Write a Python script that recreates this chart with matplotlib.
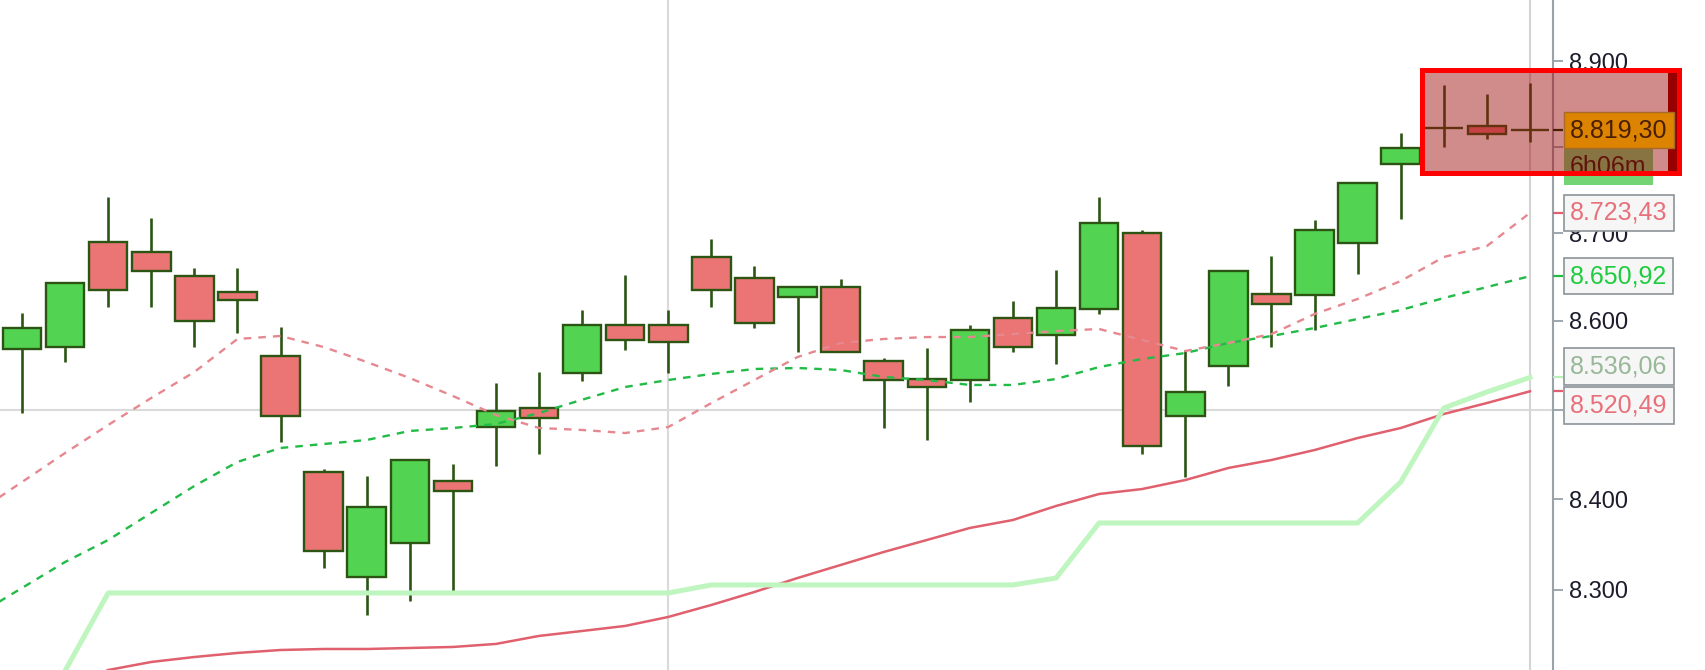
import numpy as np
import matplotlib
matplotlib.use("Agg")
import matplotlib.pyplot as plt
from matplotlib.patches import Rectangle
from matplotlib.ticker import FixedLocator, FixedFormatter, NullLocator

plt.rcParams['font.family'] = ['Liberation Sans', 'DejaVu Sans']

# OHLC candles (price)
opens = [8568.2, 8570.8, 8689.7, 8678.9, 8651.4, 8632.8, 8560.3, 8430.6, 8314.6, 8351.3,
         8420.2, 8480.1, 8501.4, 8541.1, 8595.0, 8595.0, 8673.1, 8649.2, 8626.8, 8638.2,
         8554.9, 8534.0, 8532.9, 8603.6, 8584.0, 8613.5, 8700.7, 8493.1, 8549.3, 8630.2,
         8629.4, 8689.2, 8779.5, 8822.0, 8824.0, 8819.3]
highs = [8609.3, 8644.0, 8742.1, 8717.2, 8660.6, 8660.6, 8593.4, 8433.2, 8425.8, 8444.0,
         8438.8, 8529.8, 8541.9, 8612.4, 8652.2, 8612.4, 8693.1, 8662.9, 8638.6, 8647.3,
         8558.3, 8569.0, 8595.3, 8623.0, 8657.9, 8742.1, 8703.8, 8567.0, 8657.6, 8674.0,
         8715.2, 8758.4, 8816.2, 8871.9, 8861.0, 8874.6]
lows = [8495.8, 8553.8, 8615.4, 8615.4, 8570.1, 8585.9, 8463.3, 8324.5, 8272.7, 8288.0,
        8299.2, 8437.2, 8450.3, 8532.4, 8567.0, 8540.7, 8615.4, 8591.6, 8564.4, 8565.1,
        8479.0, 8465.9, 8508.8, 8564.4, 8551.2, 8607.8, 8450.3, 8424.3, 8526.8, 8570.1,
        8589.3, 8653.4, 8716.1, 8800.0, 8808.5, 8805.8]
closes = [8592.3, 8643.4, 8635.1, 8656.8, 8599.9, 8623.7, 8493.1, 8343.2, 8391.1, 8443.6,
          8409.1, 8498.7, 8490.5, 8595.0, 8578.7, 8575.7, 8635.1, 8597.3, 8638.2, 8565.1,
          8532.9, 8525.0, 8590.0, 8570.8, 8614.3, 8711.5, 8459.5, 8520.0, 8657.1, 8619.2,
          8703.4, 8757.9, 8798.8, 8822.0, 8814.7, 8819.3]

# indicator lines (first value belongs to the bar just left of the view)
ma_fast = [8387.0, 8419.1, 8451.4, 8482.7, 8513.0, 8542.2, 8579.5, 8582.9, 8570.4, 8553.5,
           8535.4, 8515.2, 8493.9, 8479.3, 8477.1, 8473.7, 8480.4, 8507.3, 8533.2, 8559.1,
           8575.0, 8579.5, 8581.7, 8581.7, 8585.1, 8588.5, 8590.8, 8578.3, 8565.9, 8575.0,
           8585.1, 8607.8, 8624.9, 8645.4, 8672.8, 8685.4, 8723.43]
ma_mid = [8273.8, 8302.2, 8330.7, 8354.9, 8384.8, 8414.7, 8441.4, 8457.0, 8461.4, 8465.9,
          8476.0, 8479.3, 8483.8, 8496.1, 8511.0, 8525.3, 8533.2, 8540.0, 8545.6, 8546.7,
          8544.5, 8536.6, 8533.2, 8527.6, 8527.6, 8534.3, 8547.8, 8556.9, 8563.6, 8575.0,
          8582.9, 8591.9, 8602.2, 8612.4, 8626.0, 8638.5, 8650.92]
lowest = [8100.0, 8150.0, 8212.0, 8296.7, 8296.7, 8296.7, 8296.7, 8296.7, 8296.7, 8296.7,
          8296.7, 8296.7, 8296.7, 8296.7, 8296.7, 8296.7, 8296.7, 8305.5, 8305.5, 8305.5,
          8305.5, 8305.5, 8305.5, 8305.5, 8305.5, 8313.1, 8373.7, 8373.7, 8373.7, 8373.7,
          8373.7, 8373.7, 8373.7, 8419.1, 8501.7, 8519.7, 8536.06]
ma_slow = [8150.0, 8170.0, 8190.0, 8212.8, 8221.5, 8226.9, 8231.3, 8234.5, 8235.6, 8235.6,
           8236.7, 8237.8, 8241.1, 8249.8, 8255.2, 8260.7, 8270.5, 8283.6, 8297.8, 8313.1,
           8327.4, 8341.7, 8354.9, 8368.2, 8377.0, 8392.5, 8405.8, 8411.3, 8421.3, 8434.7,
           8443.6, 8454.7, 8468.1, 8479.3, 8495.0, 8507.3, 8520.49]

y_ticks = [8300, 8400, 8500, 8600, 8700, 8800, 8900]
y_labels = ['8.300', '8.400', '', '8.600', '8.700', '', '8.900']

# right side price labels: value, text, text colour, tick colour, shift (px)
tags = [(8723.43, '8.723,43', '#e8707a', '#e06070', 0),
        (8650.92, '8.650,92', '#1fcc3f', '#22bb44', 0),
        (8536.06, '8.536,06', '#98b898', '#b8f0b8', 11),
        (8520.49, '8.520,49', '#e8707a', '#e06070', -14)]
last_price = 8819.30
last_text = '8.819,30'
timer_text = '6h06m'

W, H = 1706, 670
fig = plt.figure(figsize=(W / 100, H / 100), dpi=100)
ax = fig.add_axes([0, 0, 1553 / W, 1])
ax.set_yscale('log')
ax.set_xlim(-0.511, 35.534)
ax.set_ylim(8212.8, 8972)

x = np.arange(len(opens))
xl = np.arange(-1, len(opens))
o = np.array(opens)
c = np.array(closes)
up = c >= o
edge = '#2c5514'

# grid / separators
ax.axhline(8500, color='#dadada', lw=1.5, zorder=1)
ax.axvline(15, color='#dadada', lw=1.5, zorder=1)
ax.axvline(35, color='#d4d4d4', lw=1.5, zorder=1)

# candles
ax.vlines(x, lows, highs, color=edge, lw=1.9, zorder=3)
ax.bar(x, np.abs(c - o), 0.894, bottom=np.minimum(o, c),
       color=np.where(up, '#52d352', '#eb7474'), edgecolor=edge, linewidth=1.7, zorder=3.5)

# indicators
ax.plot(xl, ma_slow, color='#e0606e', lw=1.8, zorder=4)
ax.plot(xl, lowest, color='#bff5bf', lw=3.6, zorder=4)
ax.plot(xl, ma_mid, color='#22bb48', lw=1.7, ls=(0, (3.2, 3.0)), zorder=4.2)
ax.plot(xl, ma_fast, color='#e68890', lw=1.7, ls=(0, (3.2, 3.0)), zorder=4.2)

# y axis on the right
for s in ['left', 'top', 'bottom']:
    ax.spines[s].set_visible(False)
ax.spines['right'].set_color('#98a2a8')
ax.spines['right'].set_linewidth(1.5)
ax.set_xticks([])
ax.yaxis.tick_right()
ax.yaxis.set_major_locator(FixedLocator(y_ticks))
ax.yaxis.set_major_formatter(FixedFormatter(y_labels))
ax.yaxis.set_minor_locator(NullLocator())
ax.tick_params(axis='y', length=7.2, width=1.2, color='#8d989f', pad=4,
               labelsize=17, labelcolor='#1c1c2c')

ytr = ax.get_yaxis_transform()
box_kw = dict(boxstyle='square,pad=0.25', lw=1.2)
for val, txt, tc, kc, dy in tags:
    ax.hlines(val, 1.0, 1.0066, transform=ytr, color=kc, lw=1.6, clip_on=False, zorder=6)
    ax.annotate(txt, xy=(1.0, val), xycoords=ytr, xytext=(17, dy), textcoords='offset pixels',
                ha='left', va='center', fontsize=18, color=tc, zorder=6,
                bbox=dict(fc='#f6f6f6', ec='#8c9499', **box_kw))

# timer box (under the highlight)
ax.annotate(timer_text, xy=(1.0, last_price), xycoords=ytr, xytext=(17, -37),
            textcoords='offset pixels', ha='left', va='center', fontsize=18,
            color='#2a1a0a', zorder=6,
            bbox=dict(boxstyle='square,pad=0.25', fc='#74d474', ec='none'))

# highlight box
hx0, hx1, hy0, hy1 = 1422.5, 1679.5, 70.5, 172.5
ax.add_patch(Rectangle((hx0 / W, 1 - hy1 / H), (hx1 - hx0) / W, (hy1 - hy0) / H,
                       transform=fig.transFigure, fc=(0.62, 0.05, 0.05), alpha=0.48,
                       ec='none', clip_on=False, zorder=7))
ax.add_patch(Rectangle((1668 / W, 1 - hy1 / H), 10 / W, (hy1 - hy0) / H,
                       transform=fig.transFigure, fc='#980000', ec='none',
                       clip_on=False, zorder=7.5))

# last price tag
ax.hlines(last_price, 1.0, 1.0066, transform=ytr, color='#4a1e00', lw=1.6, clip_on=False, zorder=8)
ax.annotate(last_text, xy=(1.0, last_price), xycoords=ytr, xytext=(17, 0),
            textcoords='offset pixels', ha='left', va='center', fontsize=18,
            color='#4a1e00', zorder=8,
            bbox=dict(fc='#dc8400', ec='#a86a28', boxstyle='square,pad=0.25', lw=1))

ax.add_patch(Rectangle((hx0 / W, 1 - hy1 / H), (hx1 - hx0) / W, (hy1 - hy0) / H,
                       transform=fig.transFigure, fc='none', ec='#ff0000', lw=3.6,
                       clip_on=False, zorder=9))

fig.savefig('out.png', dpi=100, facecolor='white')
